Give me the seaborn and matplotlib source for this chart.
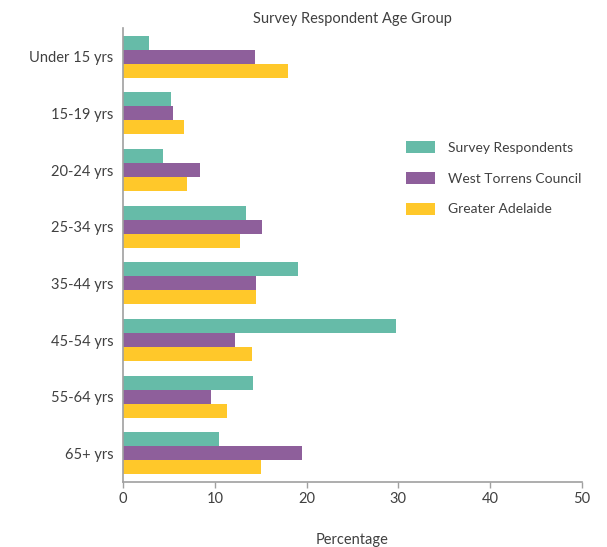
import matplotlib
matplotlib.use("Agg")
import matplotlib.pyplot as plt
import seaborn as sns
import pandas as pd

categories = ["Under 15 yrs", "15-19 yrs", "20-24 yrs", "25-34 yrs",
              "35-44 yrs", "45-54 yrs", "55-64 yrs", "65+ yrs"]
series_names = ["Survey Respondents", "West Torrens Council", "Greater Adelaide"]
survey_respondents = [2.8, 5.2, 4.4, 13.4, 19.1, 29.7, 14.2, 10.5]
west_torrens = [14.4, 5.5, 8.4, 15.1, 14.5, 12.2, 9.6, 19.5]
greater_adelaide = [18.0, 6.7, 7.0, 12.7, 14.5, 14.1, 11.3, 15.0]
x_ticks = [0, 10, 20, 30, 40, 50]
colors = ["#66BBA8", "#8E5F9B", "#FFC82A"]

rows = []
for name, vals in zip(series_names, [survey_respondents, west_torrens, greater_adelaide]):
    for c, v in zip(categories, vals):
        rows.append({"Age": c, "Series": name, "Percentage": v})
df = pd.DataFrame(rows)

sns.set_theme(style="white")
plt.rcParams["font.family"] = ["Lato", "DejaVu Sans"]
text_color = "#404040"
fs = 10.5

fig = plt.figure(figsize=(6.07, 5.47), dpi=100)
ax = fig.add_axes([0.2026, 0.1194, 0.7562, 0.8286])
sns.barplot(data=df, y="Age", x="Percentage", hue="Series", order=categories,
            hue_order=series_names, palette=colors, orient="h", width=0.74,
            saturation=1, errorbar=None, linewidth=0, ax=ax)

ax.set_xlim(0, 50)
ax.set_ylim(7.5, -0.5)
ax.set_xticks(x_ticks)
ax.set_xticklabels([str(t) for t in x_ticks])
ax.set_ylabel("")
ax.set_xlabel("Percentage", fontsize=fs, color=text_color, labelpad=19.5)
ax.set_title("Survey Respondent Age Group", fontsize=fs, color=text_color, pad=4)

for s in ["top", "right"]:
    ax.spines[s].set_visible(False)
for s in ["left", "bottom"]:
    ax.spines[s].set_color("#a0a0a0")
    ax.spines[s].set_linewidth(1.2)
ax.tick_params(axis="x", bottom=True, length=4, width=1, color="#a0a0a0",
               labelsize=fs, labelcolor=text_color, pad=3.5)
ax.tick_params(axis="y", left=False, length=0, labelsize=fs, labelcolor=text_color, pad=7)

handles, labels = ax.get_legend_handles_labels()
ax.legend(handles, labels, loc="upper left", bbox_to_anchor=(0.648, 0.765),
          bbox_transform=fig.transFigure, frameon=False, fontsize=10,
          labelcolor=text_color, handlelength=2.1, handleheight=0.95,
          labelspacing=1.3, handletextpad=0.9)

fig.savefig("out.png", dpi=100, facecolor="white")
